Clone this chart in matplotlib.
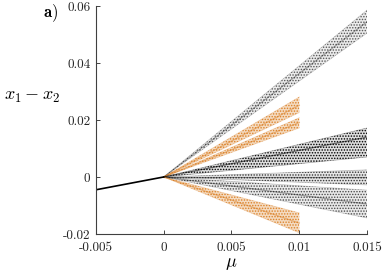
import numpy as np
import matplotlib
matplotlib.use('Agg')
import matplotlib.pyplot as plt

plt.rcParams['mathtext.fontset'] = 'cm'
plt.rcParams['hatch.linewidth'] = 0.7

# stable branch for mu < 0
neg_mu = [-0.005, 0.0]
neg_val = [-0.0045, 0.0]

# bands: (mu at end, lower value at end, upper value at end, colour)
band_end = [0.015, 0.01, 0.01, 0.015, 0.015, 0.015, 0.01]
band_lo = [0.0505, 0.0226, 0.0172, 0.0070, -0.0028, -0.0144, -0.0196]
band_hi = [0.0586, 0.0281, 0.0208, 0.0172, 0.0025, -0.0046, -0.0126]
band_core = [0.0545, 0.0252, 0.0191, 0.0140, 0.0, -0.0095, -0.0162]
band_col = ['k', '#d97a1c', '#d97a1c', 'k', 'k', 'k', '#d97a1c']
band_dens = [0.6, 0.9, 0.9, 1.0, 0.75, 0.65, 0.9]

xticks = [-0.005, 0, 0.005, 0.01, 0.015]
xlabels = ['-0.005', '0', '0.005', '0.01', '0.015']
yticks = [-0.02, 0, 0.02, 0.04, 0.06]
ylabels = ['-0.02', '0', '0.02', '0.04', '0.06']

fig = plt.figure(figsize=(3.82, 2.73), dpi=100)
ax = fig.add_axes([0.251, 0.143, 0.710, 0.835])

for e, lo, hi, c, col, d in zip(band_end, band_lo, band_hi, band_core,
                                band_col, band_dens):
    mu = np.array([0.0, e])
    fa = 0.13 if col == 'k' else 0.3
    ax.fill_between(mu, [0, lo], [0, hi], facecolor=col, alpha=fa * d, lw=0)
    ax.fill_between(mu, [0, lo], [0, hi], facecolor='none', edgecolor=col,
                    hatch='......', lw=0, alpha=d)
    ax.plot(mu, [0, c], color=col, lw=0.9, alpha=0.5 * d)
    ax.plot(mu, [0, lo], color=col, lw=0.5, alpha=0.3 * d)
    ax.plot(mu, [0, hi], color=col, lw=0.5, alpha=0.3 * d)

ax.plot(neg_mu, neg_val, color='k', lw=1.2)

ax.set_xlim(-0.005, 0.015)
ax.set_ylim(-0.02, 0.06)
ax.set_xticks(xticks)
ax.set_xticklabels(xlabels, family='cmr10', fontsize=9.5)
ax.set_yticks(yticks)
ax.set_yticklabels(ylabels, family='cmr10', fontsize=9.5)
ax.tick_params(direction='in', length=3, width=0.6, colors='#262626')
ax.tick_params(axis='x', pad=6)
ax.tick_params(axis='y', pad=4)
for s in ['top', 'right']:
    ax.spines[s].set_visible(False)
for s in ['left', 'bottom']:
    ax.spines[s].set_color('#404040')
    ax.spines[s].set_linewidth(0.8)

ax.set_xlabel(r'$\mu$', fontsize=13, labelpad=0)
fig.text(0.085, 0.65, r'$x_1 - x_2$', fontsize=13, ha='center', va='center')
fig.text(0.132, 0.952, r'$\mathbf{a)}$', fontsize=12, ha='center', va='center')

fig.savefig('out.png', dpi=100)
